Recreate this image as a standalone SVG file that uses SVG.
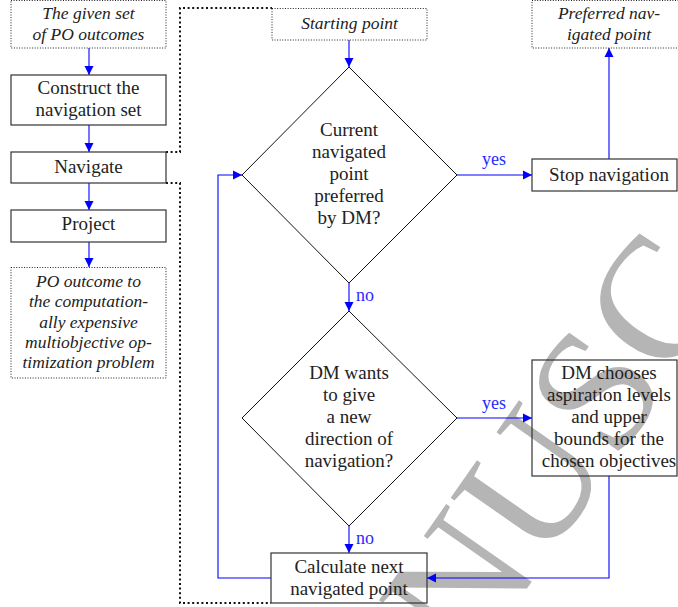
<svg xmlns="http://www.w3.org/2000/svg" width="678" height="607" viewBox="0 0 678 607">
<defs>
<marker id="ah" markerUnits="userSpaceOnUse" markerWidth="10" markerHeight="10" viewBox="0 -5 10 10" refX="9" refY="0" orient="auto"><path d="M0,-4.5 L9,0 L0,4.5 z" fill="#0000ff"/></marker>
</defs>
<style>
.box{fill:none;stroke:#333;stroke-width:1.2}
.dbox{fill:none;stroke:#222;stroke-width:1;stroke-dasharray:1,1.6}
.dia{fill:none;stroke:#111;stroke-width:1}
.t{font-family:"Liberation Serif","Times New Roman",serif;font-size:19px;fill:#222;text-anchor:middle}
.it{font-family:"Liberation Serif","Times New Roman",serif;font-style:italic;font-size:17.5px;fill:#222;text-anchor:middle}
.lbl{font-family:"Liberation Serif","Times New Roman",serif;font-size:18px;fill:#2a2aff}
.c{fill:none;stroke:#0000ff;stroke-width:1.1}
.dot{fill:none;stroke:#111;stroke-width:2;stroke-dasharray:2,2.6}
.wm{font-family:"Liberation Serif","Times New Roman",serif;font-size:175px;fill:#b5b5b5}
</style>
<rect width="678" height="607" fill="#fff"/>
<text class="wm" transform="translate(470,670) rotate(-55)">NUSC</text>

<g id="connectors">
<path class="c" d="M89,48 V75" marker-end="url(#ah)"/>
<path class="c" d="M89,125 V152" marker-end="url(#ah)"/>
<path class="c" d="M89,183 V210" marker-end="url(#ah)"/>
<path class="c" d="M89,242 V267" marker-end="url(#ah)"/>
<path class="c" d="M349,40 V67" marker-end="url(#ah)"/>
<path class="c" d="M457,175 H532" marker-end="url(#ah)"/>
<path class="c" d="M609,159 V48" marker-end="url(#ah)"/>
<path class="c" d="M349,283 V311" marker-end="url(#ah)"/>
<path class="c" d="M457,418 H532" marker-end="url(#ah)"/>
<path class="c" d="M349,526 V553" marker-end="url(#ah)"/>
<path class="c" d="M609,476 V578 H427" marker-end="url(#ah)"/>
<path class="c" d="M271,578 H218 V175 H242" marker-end="url(#ah)"/>
<path class="dot" d="M166,152 H180 V8 H272"/>
<path class="dot" d="M166,183 H180 V603 H271"/>
<text class="lbl" x="494" y="165" text-anchor="middle">yes</text>
<text class="lbl" x="494" y="409" text-anchor="middle">yes</text>
<text class="lbl" x="356" y="301">no</text>
<text class="lbl" x="356" y="544">no</text>
</g>

<g id="given-set">
<rect class="dbox" x="11" y="0.5" width="155" height="47.5"/>
<text class="it" x="88.5" y="19">The given set</text>
<text class="it" x="88.5" y="40">of PO outcomes</text>
</g>
<g id="construct">
<rect class="box" x="11" y="75" width="155" height="50"/>
<text class="t" x="88.5" y="94">Construct the</text>
<text class="t" x="88.5" y="116">navigation set</text>
</g>
<g id="navigate">
<rect class="box" x="11" y="152" width="155" height="31"/>
<text class="t" x="88.5" y="173">Navigate</text>
</g>
<g id="project">
<rect class="box" x="11" y="210" width="155" height="32"/>
<text class="t" x="88.5" y="230">Project</text>
</g>
<g id="po-outcome">
<rect class="dbox" x="11" y="267.5" width="155" height="110.5"/>
<text class="it" x="88.5" y="287">PO outcome to</text>
<text class="it" x="88.5" y="307">the computation-</text>
<text class="it" x="88.5" y="328">ally expensive</text>
<text class="it" x="88.5" y="348">multiobjective op-</text>
<text class="it" x="88.5" y="368">timization problem</text>
</g>
<g id="starting-point">
<rect class="dbox" x="272" y="8.5" width="155" height="31.5"/>
<text class="it" x="349.5" y="29">Starting point</text>
</g>
<g id="preferred">
<rect class="dbox" x="532" y="0.5" width="154" height="47.5"/>
<text class="it" x="609" y="19">Preferred nav-</text>
<text class="it" x="609" y="40">igated point</text>
</g>
<g id="decision1">
<polygon class="dia" points="349,67 457,175 349,283 242,175"/>
<text class="t" x="349" y="136">Current</text>
<text class="t" x="349" y="158">navigated</text>
<text class="t" x="349" y="180">point</text>
<text class="t" x="349" y="202">preferred</text>
<text class="t" x="349" y="224">by DM?</text>
</g>
<g id="stop">
<rect class="box" x="532" y="159" width="145" height="32"/>
<text class="t" x="609" y="181">Stop navigation</text>
</g>
<g id="decision2">
<polygon class="dia" points="349,311 457,418 349,526 242,418"/>
<text class="t" x="349" y="379">DM wants</text>
<text class="t" x="349" y="401">to give</text>
<text class="t" x="349" y="423">a new</text>
<text class="t" x="349" y="445">direction of</text>
<text class="t" x="349" y="467">navigation?</text>
</g>
<g id="dm-chooses">
<rect class="box" x="532" y="360" width="145" height="116"/>
<text class="t" x="609" y="379">DM chooses</text>
<text class="t" x="609" y="401">aspiration levels</text>
<text class="t" x="609" y="423">and upper</text>
<text class="t" x="609" y="445">bounds for the</text>
<text class="t" x="609" y="467">chosen objectives</text>
</g>
<g id="calculate">
<rect class="box" x="271" y="553" width="156" height="50"/>
<text class="t" x="349" y="573">Calculate next</text>
<text class="t" x="349" y="595">navigated point</text>
</g>
</svg>
